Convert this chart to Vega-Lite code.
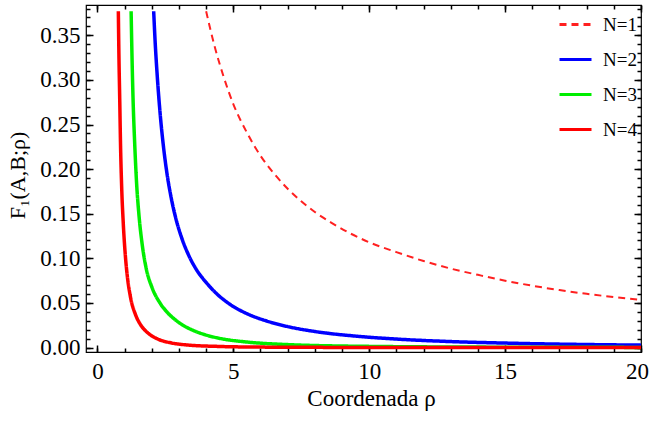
{
  "$schema": "https://vega.github.io/schema/vega-lite/v6.json",
  "width": 555,
  "height": 347,
  "autosize": {"type": "none"},
  "padding": {"left": 86, "top": 5, "right": 10, "bottom": 69},
  "background": "white",
  "config": {
    "view": {"stroke": "black", "strokeWidth": 1.2},
    "axis": {
      "labelFont": "Liberation Serif",
      "labelFontSize": 23,
      "labelColor": "black",
      "titleFont": "Liberation Serif",
      "titleFontSize": 23,
      "titleFontWeight": "normal",
      "titleColor": "black",
      "domain": false,
      "ticks": true,
      "tickColor": "#000000",
      "tickOpacity": 1,
      "tickWidth": 1.5,
      "zindex": 1,
      "grid": false
    }
  },
  "data": {
    "values": [
      {"N": "N=1", "x": 4.0, "y": 0.377},
      {"N": "N=1", "x": 4.3, "y": 0.339},
      {"N": "N=1", "x": 4.65, "y": 0.303},
      {"N": "N=1", "x": 5.0, "y": 0.273},
      {"N": "N=1", "x": 5.5, "y": 0.241},
      {"N": "N=1", "x": 6.0, "y": 0.215},
      {"N": "N=1", "x": 6.5, "y": 0.195},
      {"N": "N=1", "x": 7.0, "y": 0.178},
      {"N": "N=1", "x": 7.5, "y": 0.164},
      {"N": "N=1", "x": 8.0, "y": 0.152},
      {"N": "N=1", "x": 8.6, "y": 0.14},
      {"N": "N=1", "x": 9.3, "y": 0.128},
      {"N": "N=1", "x": 10.0, "y": 0.118},
      {"N": "N=1", "x": 11.0, "y": 0.107},
      {"N": "N=1", "x": 12.0, "y": 0.097},
      {"N": "N=1", "x": 13.0, "y": 0.0885},
      {"N": "N=1", "x": 14.0, "y": 0.0815},
      {"N": "N=1", "x": 15.0, "y": 0.0749},
      {"N": "N=1", "x": 16.0, "y": 0.0693},
      {"N": "N=1", "x": 17.0, "y": 0.0644},
      {"N": "N=1", "x": 18.0, "y": 0.0602},
      {"N": "N=1", "x": 19.0, "y": 0.0566},
      {"N": "N=1", "x": 20.0, "y": 0.0533},

      {"N": "N=2", "x": 2.07, "y": 0.377},
      {"N": "N=2", "x": 2.12, "y": 0.345},
      {"N": "N=2", "x": 2.2, "y": 0.305},
      {"N": "N=2", "x": 2.3, "y": 0.265},
      {"N": "N=2", "x": 2.42, "y": 0.228},
      {"N": "N=2", "x": 2.56, "y": 0.195},
      {"N": "N=2", "x": 2.72, "y": 0.167},
      {"N": "N=2", "x": 2.9, "y": 0.143},
      {"N": "N=2", "x": 3.1, "y": 0.123},
      {"N": "N=2", "x": 3.35, "y": 0.104},
      {"N": "N=2", "x": 3.65, "y": 0.087},
      {"N": "N=2", "x": 4.0, "y": 0.073},
      {"N": "N=2", "x": 4.4, "y": 0.06},
      {"N": "N=2", "x": 4.9, "y": 0.048},
      {"N": "N=2", "x": 5.5, "y": 0.038},
      {"N": "N=2", "x": 6.2, "y": 0.03},
      {"N": "N=2", "x": 7.0, "y": 0.0235},
      {"N": "N=2", "x": 8.0, "y": 0.018},
      {"N": "N=2", "x": 9.5, "y": 0.0128},
      {"N": "N=2", "x": 11.0, "y": 0.0095},
      {"N": "N=2", "x": 13.0, "y": 0.0067},
      {"N": "N=2", "x": 15.0, "y": 0.005},
      {"N": "N=2", "x": 17.5, "y": 0.0036},
      {"N": "N=2", "x": 20.0, "y": 0.0027},

      {"N": "N=3", "x": 1.24, "y": 0.377},
      {"N": "N=3", "x": 1.27, "y": 0.33},
      {"N": "N=3", "x": 1.31, "y": 0.28},
      {"N": "N=3", "x": 1.37, "y": 0.23},
      {"N": "N=3", "x": 1.44, "y": 0.185},
      {"N": "N=3", "x": 1.53, "y": 0.148},
      {"N": "N=3", "x": 1.65, "y": 0.115},
      {"N": "N=3", "x": 1.8, "y": 0.088},
      {"N": "N=3", "x": 2.0, "y": 0.068},
      {"N": "N=3", "x": 2.3, "y": 0.05},
      {"N": "N=3", "x": 2.6, "y": 0.0385},
      {"N": "N=3", "x": 3.0, "y": 0.028},
      {"N": "N=3", "x": 3.5, "y": 0.0195},
      {"N": "N=3", "x": 4.0, "y": 0.014},
      {"N": "N=3", "x": 4.6, "y": 0.0097},
      {"N": "N=3", "x": 5.5, "y": 0.0062},
      {"N": "N=3", "x": 7.0, "y": 0.0033},
      {"N": "N=3", "x": 10.0, "y": 0.0013},
      {"N": "N=3", "x": 15.0, "y": 0.0004},
      {"N": "N=3", "x": 20.0, "y": 0.00017},

      {"N": "N=4", "x": 0.77, "y": 0.377},
      {"N": "N=4", "x": 0.79, "y": 0.33},
      {"N": "N=4", "x": 0.82, "y": 0.28},
      {"N": "N=4", "x": 0.85, "y": 0.228},
      {"N": "N=4", "x": 0.89, "y": 0.182},
      {"N": "N=4", "x": 0.95, "y": 0.14},
      {"N": "N=4", "x": 1.02, "y": 0.106},
      {"N": "N=4", "x": 1.1, "y": 0.08},
      {"N": "N=4", "x": 1.22, "y": 0.056},
      {"N": "N=4", "x": 1.4, "y": 0.037},
      {"N": "N=4", "x": 1.6, "y": 0.025},
      {"N": "N=4", "x": 1.85, "y": 0.0165},
      {"N": "N=4", "x": 2.2, "y": 0.0098},
      {"N": "N=4", "x": 2.7, "y": 0.0053},
      {"N": "N=4", "x": 3.3, "y": 0.0029},
      {"N": "N=4", "x": 4.5, "y": 0.0012},
      {"N": "N=4", "x": 6.0, "y": 0.0005},
      {"N": "N=4", "x": 10.0, "y": 0.0001},
      {"N": "N=4", "x": 20.0, "y": 0.0}
    ]
  },
  "resolve": {"axis": {"x": "independent", "y": "independent"}},
  "layer": [
    {
      "mark": {"type": "line", "interpolate": "monotone", "clip": true},
      "encoding": {
        "x": {"field": "x", "type": "quantitative",
          "scale": {"domain": [-0.42, 20], "nice": false, "zero": false},
          "axis": {"orient": "bottom", "values": [0, 5, 10, 15, 20], "offset": -7, "tickSize": 7, "ticks": true, "labelPadding": 8, "labelFlush": false,
            "labelOffset": {"condition": {"test": "datum.value === 20", "value": -4}, "value": 0},
            "title": "Coordenada ρ", "titleX": 285, "titleY": 53, "titleBaseline": "middle", "titleAnchor": null}},
        "y": {"field": "y", "type": "quantitative",
          "scale": {"domain": [-0.005, 0.384], "nice": false, "zero": false},
          "axis": {"orient": "left", "values": [0, 0.05, 0.1, 0.15, 0.2, 0.25, 0.3, 0.35], "format": ".2f", "offset": -7, "tickSize": 7, "ticks": true, "labelPadding": 6,
            "title": "F₁(A,B;ρ)", "titleFontSize": 22, "titleX": -76, "titleY": 170, "titleAngle": -90, "titleBaseline": "middle", "titleAlign": "center"}},
        "color": {"field": "N", "type": "nominal",
          "scale": {"domain": ["N=1", "N=2", "N=3", "N=4"], "range": ["#ff2020", "#0000ff", "#00ee00", "#ff0000"]},
          "legend": {"title": null, "orient": "none", "legendX": 472, "legendY": 2, "padding": 0,
            "symbolType": "stroke", "symbolSize": 1024, "symbolStrokeWidth": 3, "rowPadding": 7, "labelOffset": 10,
            "labelFont": "Liberation Serif", "labelFontSize": 19, "labelColor": "black"}},
        "strokeDash": {"field": "N", "type": "nominal",
          "scale": {"domain": ["N=1", "N=2", "N=3", "N=4"], "range": [[7, 5], [1, 0], [1, 0], [1, 0]]}},
        "strokeWidth": {"condition": {"test": "datum.N === 'N=1'", "value": 2}, "value": 3.5},
        "order": {"field": "x", "type": "quantitative"}
      }
    },
    {
      "mark": {"type": "line", "opacity": 0},
      "encoding": {
        "x": {"field": "x", "type": "quantitative", "scale": {"domain": [-0.42, 20], "nice": false, "zero": false},
          "axis": {"orient": "bottom", "values": [0,1,2,3,4,5,6,7,8,9,10,11,12,13,14,15,16,17,18,19,20], "offset": -4, "tickSize": 4, "ticks": true, "labels": false, "title": null}},
        "y": {"field": "y", "type": "quantitative", "scale": {"domain": [-0.005, 0.384], "nice": false, "zero": false},
          "axis": {"orient": "left", "values": [0,0.01,0.02,0.03,0.04,0.05,0.06,0.07,0.08,0.09,0.1,0.11,0.12,0.13,0.14,0.15,0.16,0.17,0.18,0.19,0.2,0.21,0.22,0.23,0.24,0.25,0.26,0.27,0.28,0.29,0.3,0.31,0.32,0.33,0.34,0.35,0.36,0.37,0.38], "offset": -4, "tickSize": 4, "ticks": true, "labels": false, "title": null}}
      }
    },
    {
      "mark": {"type": "line", "opacity": 0},
      "encoding": {
        "x": {"field": "x", "type": "quantitative", "scale": {"domain": [-0.42, 20], "nice": false, "zero": false},
          "axis": {"orient": "top", "values": [0, 5, 10, 15, 20], "offset": -7, "tickSize": 7, "ticks": true, "labels": false, "title": null}},
        "y": {"field": "y", "type": "quantitative", "scale": {"domain": [-0.005, 0.384], "nice": false, "zero": false},
          "axis": {"orient": "right", "values": [0, 0.05, 0.1, 0.15, 0.2, 0.25, 0.3, 0.35], "offset": -7, "tickSize": 7, "ticks": true, "labels": false, "title": null}}
      }
    },
    {
      "mark": {"type": "line", "opacity": 0},
      "encoding": {
        "x": {"field": "x", "type": "quantitative", "scale": {"domain": [-0.42, 20], "nice": false, "zero": false},
          "axis": {"orient": "top", "values": [0,1,2,3,4,5,6,7,8,9,10,11,12,13,14,15,16,17,18,19,20], "offset": -4, "tickSize": 4, "ticks": true, "labels": false, "title": null}},
        "y": {"field": "y", "type": "quantitative", "scale": {"domain": [-0.005, 0.384], "nice": false, "zero": false},
          "axis": {"orient": "right", "values": [0,0.01,0.02,0.03,0.04,0.05,0.06,0.07,0.08,0.09,0.1,0.11,0.12,0.13,0.14,0.15,0.16,0.17,0.18,0.19,0.2,0.21,0.22,0.23,0.24,0.25,0.26,0.27,0.28,0.29,0.3,0.31,0.32,0.33,0.34,0.35,0.36,0.37,0.38], "offset": -4, "tickSize": 4, "ticks": true, "labels": false, "title": null}}
      }
    }
  ]
}
